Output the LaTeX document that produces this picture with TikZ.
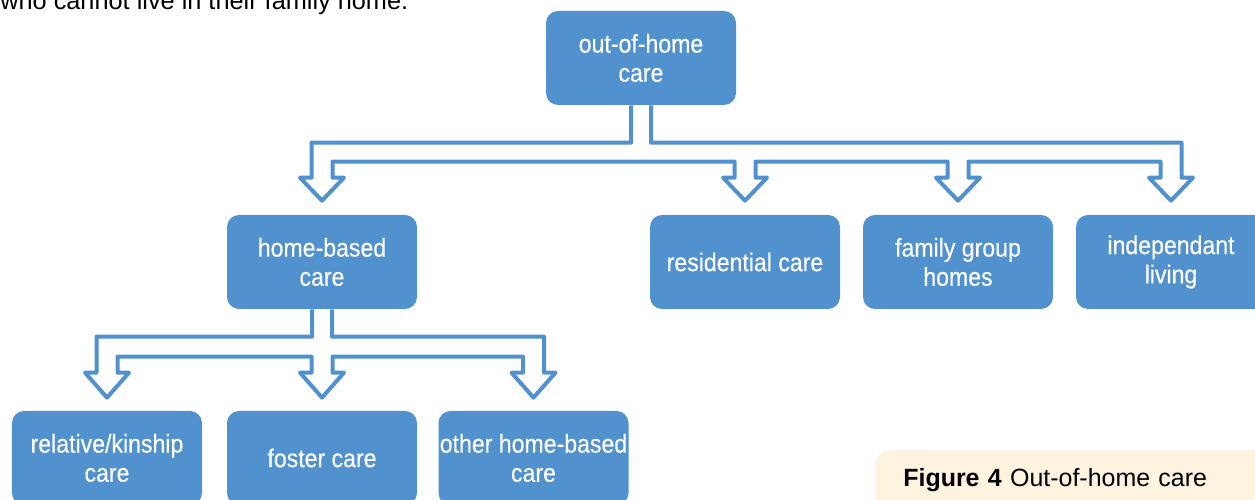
\documentclass[tikz,border=0pt]{standalone}
\usepackage{fontspec}
\setmainfont{Liberation Sans}
\newfontfamily\condfont[FakeStretch=0.9,FakeBold=0.4]{Liberation Sans}
\usetikzlibrary{calc}
\definecolor{boxblue}{RGB}{80,145,206}
\colorlet{myblue}{boxblue}
\definecolor{mycream}{RGB}{253,243,222}

\begin{document}
\begin{tikzpicture}
\useasboundingbox (0,0) rectangle (25.1,-10);
\tikzset{CareBox/.style ={shape=rectangle, rounded corners=0.24cm, fill=myblue, text=white,
  minimum width=3.8cm, minimum height=1.88cm, inner sep=0, align=center,
  font=\condfont\fontsize{14.6}{16.6}\selectfont}}
\tikzset{Pipe/.style ={draw=myblue, line width=0.08cm, line join=round}}
\node[anchor=base west, inner sep=0, font=\fontsize{14.4}{17}\selectfont] (intro) at (0,-0.2) {who cannot live in their family home.};
\node[CareBox] (root) at (12.82,-1.16) {out-of-home\\care};
\node[CareBox] (hb)   at (6.44,-5.24)  {home-based\\care};
\node[CareBox] (res)  at (14.9,-5.24)  {residential care};
\node[CareBox] (fam)  at (19.16,-5.24) {family group\\homes};
\node[CareBox] (ind)  at (23.42,-5.24) {independant\\living};
\node[CareBox] (rel)  at (2.14,-9.16)  {relative/kinship\\care};
\node[CareBox] (fos)  at (6.44,-9.16)  {foster care};
\node[CareBox] (oth)  at (10.67,-9.16) {other home-based\\care};
\node[anchor=north west, fill=mycream, rounded corners=0.3cm, text width=7.5cm, minimum height=1.2cm,
  inner xsep=0.56cm, inner ysep=0, align=left, font=\fontsize{14.2}{17}\selectfont] (caption) at (17.5,-9.0)
  {\textbf{Figure 4} Out-of-home care};
\coordinate (rL) at ($(root.south)+(-0.2,0)$);
\coordinate (rR) at ($(root.south)+(0.2,0)$);
\coordinate (hL) at ($(hb.south)+(-0.2,0)$);
\coordinate (hR) at ($(hb.south)+(0.2,0)$);
\draw[Pipe] (rL) |- ($(hb.north)+(-0.21,1.44)$) -- ++(0,-0.7) -- ++(-0.23,0) -- ++(0.44,-0.46) -- ++(0.44,0.46) -- ++(-0.23,0)
  |- ($(res.north)+(-0.21,1.06)$) -- ++(0,-0.32) -- ++(-0.23,0) -- ++(0.44,-0.46) -- ++(0.44,0.46) -- ++(-0.23,0)
  |- ($(fam.north)+(-0.21,1.06)$) -- ++(0,-0.32) -- ++(-0.23,0) -- ++(0.44,-0.46) -- ++(0.44,0.46) -- ++(-0.23,0)
  |- ($(ind.north)+(-0.21,1.06)$) -- ++(0,-0.32) -- ++(-0.23,0) -- ++(0.44,-0.46) -- ++(0.44,0.46) -- ++(-0.23,0)
  -- ++(0,0.7) -| (rR);
\draw[Pipe] (hL) |- ($(rel.north)+(-0.21,1.48)$) -- ++(0,-0.72) -- ++(-0.23,0) -- ++(0.44,-0.5) -- ++(0.44,0.5) -- ++(-0.23,0)
  |- ($(fos.north)+(-0.21,1.08)$) -- ++(0,-0.32) -- ++(-0.23,0) -- ++(0.44,-0.5) -- ++(0.44,0.5) -- ++(-0.23,0)
  |- ($(oth.north)+(-0.21,1.08)$) -- ++(0,-0.32) -- ++(-0.23,0) -- ++(0.44,-0.5) -- ++(0.44,0.5) -- ++(-0.23,0)
  -- ++(0,0.72) -| (hR);
\end{tikzpicture}
\end{document}
